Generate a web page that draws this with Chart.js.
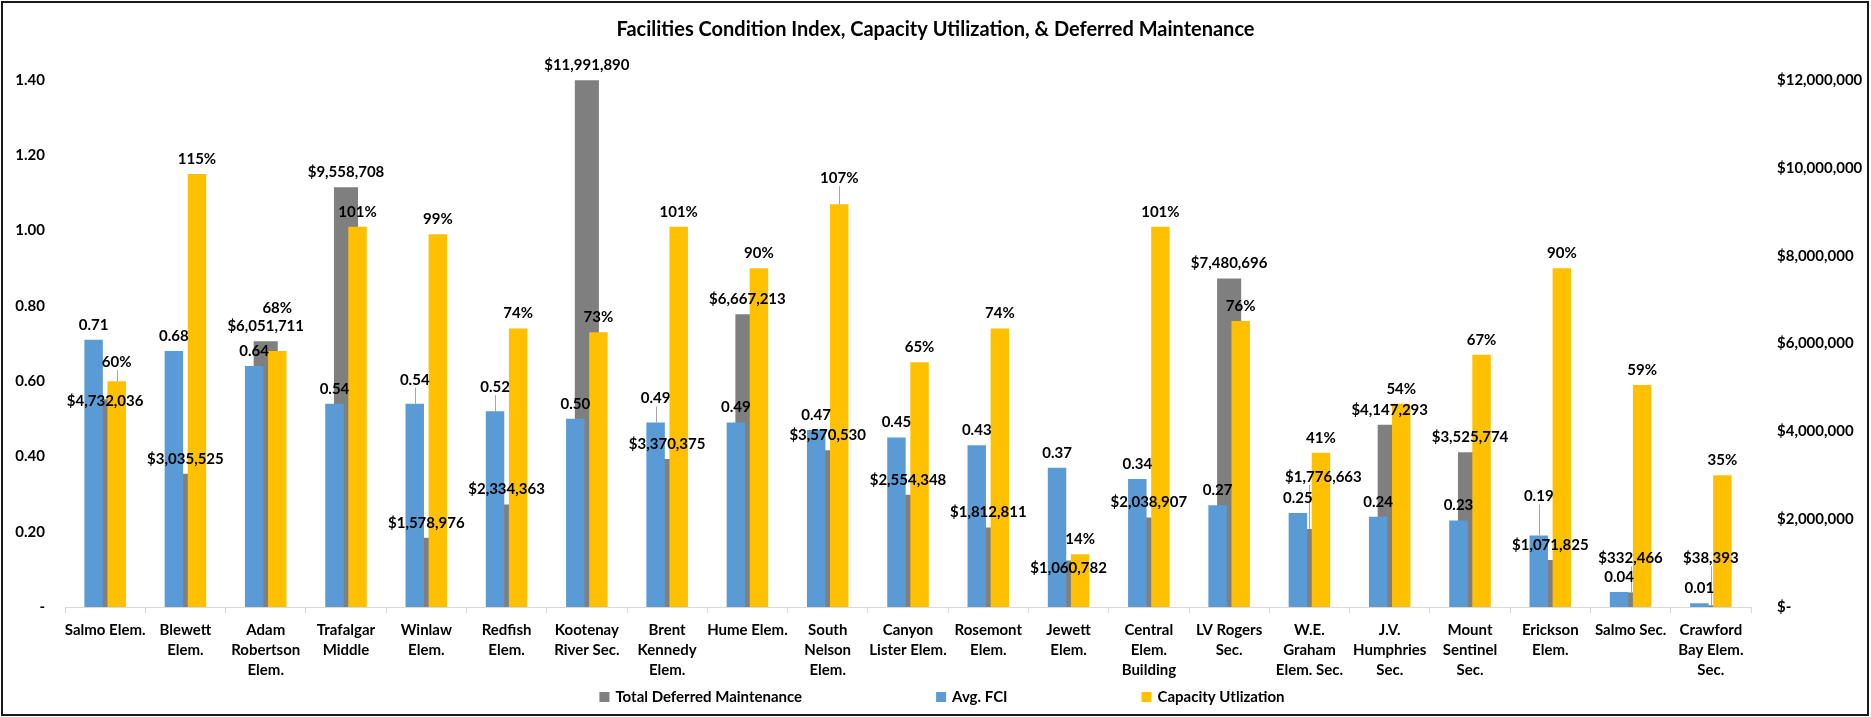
<!DOCTYPE html>
<html>
<head>
<meta charset="utf-8">
<script src="https://cdn.jsdelivr.net/npm/chart.js@4.4.1/dist/chart.umd.min.js"></script>
<style>
html,body{margin:0;padding:0;background:#fff;}
#wrap{width:1871px;height:717px;position:relative;}
</style>
</head>
<body>
<div id="wrap"><canvas id="c" width="1871" height="717"></canvas></div>
<script>
const categories = [
  "Salmo Elem.", ["Blewett","Elem."], ["Adam","Robertson","Elem."], ["Trafalgar","Middle"],
  ["Winlaw","Elem."], ["Redfish","Elem."], ["Kootenay","River Sec."], ["Brent","Kennedy","Elem."],
  "Hume Elem.", ["South","Nelson","Elem."], ["Canyon","Lister Elem."], ["Rosemont","Elem."],
  ["Jewett","Elem."], ["Central","Elem.","Building"], ["LV Rogers","Sec."], ["W.E.","Graham","Elem. Sec."],
  ["J.V.","Humphries","Sec."], ["Mount","Sentinel","Sec."], ["Erickson","Elem."], "Salmo Sec.",
  ["Crawford","Bay Elem.","Sec."]
];
const totalDeferredMaintenance = [
  4732036, 3035525, 6051711, 9558708, 1578976, 2334363, 11991890, 3370375, 6667213, 3570530,
  2554348, 1812811, 1060782, 2038907, 7480696, 1776663, 4147293, 3525774, 1071825, 332466, 38393
];
const avgFCI = [
  0.71, 0.68, 0.64, 0.54, 0.54, 0.52, 0.50, 0.49, 0.49, 0.47,
  0.45, 0.43, 0.37, 0.34, 0.27, 0.25, 0.24, 0.23, 0.19, 0.04, 0.01
];
const capacityUtilization = [
  0.60, 1.15, 0.68, 1.01, 0.99, 0.74, 0.73, 1.01, 0.90, 1.07,
  0.65, 0.74, 0.14, 1.01, 0.76, 0.41, 0.54, 0.67, 0.90, 0.59, 0.35
];
const seriesNames = ["Total Deferred Maintenance", "Avg. FCI", "Capacity Utlization"];
const leftAxisMax = 1.4;
const leftAxisStep = 0.2;
const rightAxisMax = 12000000;
const rightAxisStep = 2000000;

const FONT = "Lato, 'Open Sans', sans-serif";
const fmtMoney = v => v === 0 ? '$-' : '$' + Math.round(v).toLocaleString('en-US');
const fmtFCI = v => v === 0 ? '-' : v.toFixed(2);
const fmtPct = v => Math.round(v * 100) + '%';
const labelFormats = [fmtMoney, fmtFCI, fmtPct];

// Manual label placement tweaks (like dragged labels in the original): [datasetIndex, pointIndex, dx, dy, leaderLine]
const labelNudges = [
  [0, 0, 0, 17, false], [0, 12, 0, 23, false], [0, 15, 14, -37, true], [0, 19, 0, -19, true], [0, 20, 0, -32, true],
  [1, 4, 0, -9, true], [1, 5, 0, -9, true], [1, 7, 0, -9, true], [1, 18, 0, -24, true],
  [2, 0, 0, -4, true], [2, 2, 0, -28, false], [2, 9, 0, -11, true]
];

const bgAndBorder = {
  id: 'bgAndBorder',
  beforeDraw(chart) {
    const ctx = chart.ctx;
    ctx.save();
    ctx.fillStyle = '#fff';
    ctx.fillRect(0, 0, chart.width, chart.height);
    ctx.restore();
  },
  afterDraw(chart) {
    const ctx = chart.ctx;
    ctx.save();
    ctx.strokeStyle = '#1a1a1a';
    ctx.lineWidth = 2;
    ctx.strokeRect(2, 2, chart.width - 5, chart.height - 4);
    ctx.restore();
  }
};

const valueLabels = {
  id: 'valueLabels',
  afterDatasetsDraw(chart) {
    const ctx = chart.ctx;
    ctx.save();
    ctx.font = "bold 15px " + FONT;
    ctx.textAlign = 'center';
    ctx.textBaseline = 'middle';
    chart.data.datasets.forEach((ds, di) => {
      const meta = chart.getDatasetMeta(di);
      meta.data.forEach((el, i) => {
        const n = labelNudges.find(a => a[0] === di && a[1] === i);
        const dx = n ? n[2] : 0;
        const dy = n ? n[3] : 0;
        const cy = el.y - 15 + dy;
        if (n && n[4]) {
          ctx.strokeStyle = '#A6A6A6';
          ctx.lineWidth = 1;
          ctx.beginPath();
          ctx.moveTo(Math.round(el.x) + 0.5, cy + 8);
          ctx.lineTo(Math.round(el.x) + 0.5, el.y);
          ctx.stroke();
        }
        ctx.fillStyle = '#000';
        ctx.fillText(labelFormats[di](ds.data[i]), el.x + dx, cy);
      });
    });
    ctx.restore();
  }
};

const customLegend = {
  id: 'customLegend',
  afterDraw(chart) {
    const ctx = chart.ctx;
    ctx.save();
    ctx.font = "bold 15px " + FONT;
    ctx.textBaseline = 'middle';
    ctx.textAlign = 'left';
    const box = 10, gapText = 6, gapItem = 134;
    const items = chart.data.datasets.map(ds => ({ text: ds.label, color: ds.backgroundColor }));
    let total = 0;
    items.forEach((it, k) => { it.w = ctx.measureText(it.text).width; total += box + gapText + it.w + (k < items.length - 1 ? gapItem : 0); });
    let x = 942 - total / 2;
    const y = 697;
    items.forEach(it => {
      ctx.fillStyle = it.color;
      ctx.fillRect(x, y - box / 2, box, box);
      x += box + gapText;
      ctx.fillStyle = '#000';
      ctx.fillText(it.text, x, y);
      x += it.w + gapItem;
    });
    ctx.restore();
  }
};

new Chart(document.getElementById('c'), {
  type: 'bar',
  data: {
    labels: categories,
    datasets: [
      {
        label: seriesNames[0], data: totalDeferredMaintenance, yAxisID: 'y1',
        backgroundColor: '#7F7F7F', grouped: false, order: 2,
        categoryPercentage: 0.3, barPercentage: 1
      },
      {
        label: seriesNames[1], data: avgFCI, yAxisID: 'y',
        backgroundColor: '#5B9BD5', order: 1,
        categoryPercentage: 0.575, barPercentage: 0.8
      },
      {
        label: seriesNames[2], data: capacityUtilization, yAxisID: 'y',
        backgroundColor: '#FFC000', order: 1,
        categoryPercentage: 0.575, barPercentage: 0.8
      }
    ]
  },
  options: {
    responsive: false,
    animation: false,
    devicePixelRatio: 1,
    layout: { padding: { left: 0, right: 0, top: 0, bottom: 37 } },
    plugins: {
      legend: { display: false },
      tooltip: { enabled: false },
      title: {
        display: true,
        text: 'Facilities Condition Index, Capacity Utilization, & Deferred Maintenance',
        color: '#000',
        font: { family: FONT, size: 20, weight: 'bold', lineHeight: 1.2 },
        padding: { top: 18, bottom: 38 }
      }
    },
    scales: {
      x: {
        grid: { display: true, drawOnChartArea: false, drawTicks: true, tickLength: 6, color: '#D9D9D9', offset: true },
        border: { display: true, color: '#D9D9D9', width: 1 },
        ticks: {
          color: '#000', padding: 7, maxRotation: 0, autoSkip: false,
          font: { family: FONT, size: 15, weight: 'bold', lineHeight: 1.33 }
        },
        afterFit(scale) { scale.height = 73; }
      },
      y: {
        position: 'left', min: 0, max: leftAxisMax,
        grid: { display: false, drawTicks: false },
        border: { display: false },
        ticks: {
          stepSize: leftAxisStep, color: '#000', padding: 20,
          font: { family: FONT, size: 15, weight: 'bold' },
          callback: v => fmtFCI(Math.round(v * 100) / 100)
        },
        afterFit(scale) { scale.width = 65; }
      },
      y1: {
        position: 'right', min: 0, max: rightAxisMax,
        grid: { display: false, drawTicks: false },
        border: { display: false },
        ticks: {
          stepSize: rightAxisStep, color: '#000', padding: 26,
          font: { family: FONT, size: 15, weight: 'bold' },
          callback: v => fmtMoney(v)
        },
        afterFit(scale) { scale.width = 120; }
      }
    }
  },
  plugins: [bgAndBorder, valueLabels, customLegend]
});
</script>
</body>
</html>
